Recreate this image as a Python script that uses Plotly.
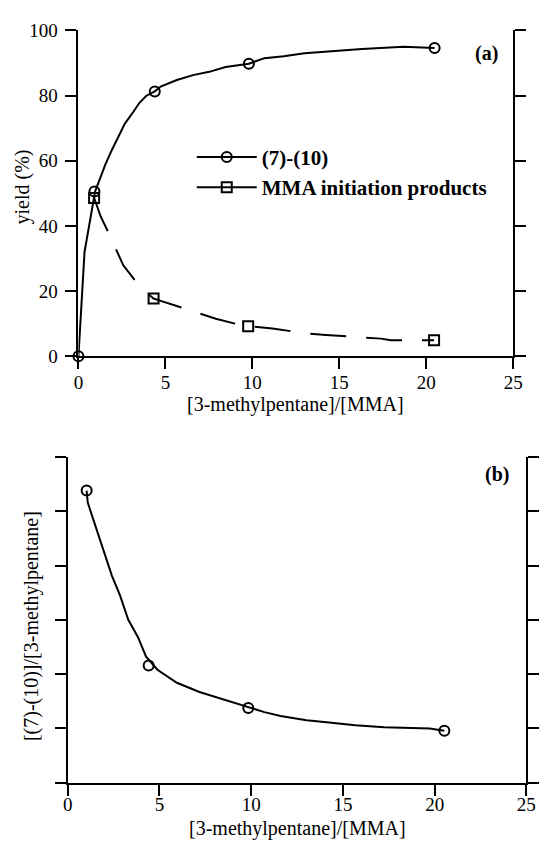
import plotly.graph_objects as go

# ---------------- data ----------------
# panel (a): measured points
ratio_a = [0, 0.92, 4.39, 9.8, 20.48]
yield_7_10 = [0, 50.6, 81.3, 89.8, 94.6]
ratio_mma = [0.9, 4.32, 9.76, 20.45]
yield_mma = [48.6, 17.7, 9.2, 4.9]

# panel (a): drawn curves
curve_7_10_x = [0, 0.35, 0.96, 1.55, 1.93, 2.21, 2.67, 3.14, 3.51, 3.89, 4.39, 4.73, 5.66,
                6.59, 7.52, 8.46, 9.8, 10.69, 11.81, 13.0, 14.5, 16.3, 18.7, 20.48]
curve_7_10_y = [0, 32, 50.6, 58.9, 63.4, 66.4, 71.4, 74.9, 77.8, 79.9, 81.3, 82.8, 84.8,
                86.3, 87.3, 88.8, 89.8, 91.5, 92.1, 93.0, 93.6, 94.3, 95.0, 94.6]
curve_mma_x = [0.9, 1.28, 1.71, 2.21, 2.58, 3.55, 4.32, 4.73, 6.74, 7.9, 9.0, 9.76, 11.16,
               12.37, 13.1, 14.23, 15.63, 16.29, 17.4, 17.96, 19.45, 20.45]
curve_mma_y = [48.6, 42.9, 38.1, 31.9, 27.9, 21.2, 17.7, 17.0, 13.5, 11.5, 10.0, 9.2, 8.5,
               7.5, 7.0, 6.5, 6.0, 5.6, 5.4, 4.9, 4.9, 4.9]

# panel (b): measured points
ratio_b = [1.03, 4.41, 9.84, 20.53]
rel_b = [5.38, 2.16, 1.376, 0.957]
# panel (b): drawn curve
curve_b_x = [1.03, 1.09, 1.44, 1.71, 2.06, 2.41, 2.85, 3.30, 3.83, 4.27, 4.89, 5.95, 7.18,
             8.95, 9.84, 10.72, 11.6, 13.02, 14.25, 15.67, 17.26, 19.73, 20.53]
curve_b_y = [5.38, 5.16, 4.80, 4.53, 4.17, 3.81, 3.45, 3.00, 2.68, 2.32, 2.08, 1.84, 1.67,
             1.48, 1.39, 1.30, 1.23, 1.15, 1.11, 1.06, 1.02, 1.00, 0.957]

x_ticks = [0, 5, 10, 15, 20, 25]
y_ticks_a = [0, 20, 40, 60, 80, 100]
y_ticks_b = [0, 1, 2, 3, 4, 5, 6]

name_a = "(7)-(10)"
name_b = "MMA initiation products"
x_title = "[3-methylpentane]/[MMA]"
y_title_a = "yield (%)"
y_title_b = "[(7)-(10)]/[3-methylpentane]"

# ---------------- figure ----------------
FONT = "Liberation Serif"
W, H = 549, 848
LW = 2

fig = go.Figure()

# panel (a) curves
fig.add_trace(go.Scatter(x=curve_7_10_x, y=curve_7_10_y, mode="lines",
                         line=dict(color="black", width=LW), showlegend=False,
                         xaxis="x", yaxis="y", cliponaxis=False))
fig.add_trace(go.Scatter(x=curve_mma_x, y=curve_mma_y, mode="lines",
                         line=dict(color="black", width=LW, dash="36px,20px"),
                         showlegend=False, xaxis="x", yaxis="y"))
# panel (a) markers
mk_c = dict(symbol="circle-open", size=10, color="black", line=dict(width=2, color="black"))
mk_s = dict(symbol="square-open", size=10, color="black", line=dict(width=2, color="black"))
fig.add_trace(go.Scatter(x=ratio_a, y=yield_7_10, mode="markers", marker=mk_c,
                         showlegend=False, xaxis="x", yaxis="y", cliponaxis=False))
fig.add_trace(go.Scatter(x=ratio_mma, y=yield_mma, mode="markers", marker=mk_s,
                         showlegend=False, xaxis="x", yaxis="y", cliponaxis=False))
# legend entries
fig.add_trace(go.Scatter(x=[None], y=[None], mode="lines+markers", name=name_a,
                         line=dict(color="black", width=LW), marker=mk_c,
                         legendgroup="g1", xaxis="x", yaxis="y"))
fig.add_trace(go.Scatter(x=[None], y=[None], mode="lines+markers", name=name_b,
                         line=dict(color="black", width=LW), marker=mk_s,
                         legendgroup="g2", xaxis="x", yaxis="y"))

# panel (b)
fig.add_trace(go.Scatter(x=curve_b_x, y=curve_b_y, mode="lines",
                         line=dict(color="black", width=LW), showlegend=False,
                         xaxis="x2", yaxis="y2"))
fig.add_trace(go.Scatter(x=ratio_b, y=rel_b, mode="markers", marker=mk_c,
                         showlegend=False, xaxis="x2", yaxis="y2", cliponaxis=False))

tickfont = dict(family=FONT, size=19, color="black")
titlefont = dict(family=FONT, size=20, color="black")

common_x = dict(range=[0, 25], tickvals=x_ticks, showline=True, linecolor="black",
                linewidth=LW, ticks="outside", ticklen=11, tickwidth=LW, tickcolor="black",
                showgrid=False, zeroline=False, tickfont=tickfont)
common_y = dict(showline=True, linecolor="black", linewidth=LW, ticks="outside",
                ticklen=11, tickwidth=LW, tickcolor="black", mirror="ticks",
                showgrid=False, zeroline=False, tickfont=tickfont)

ann = dict(xref="paper", yref="paper", showarrow=False, xanchor="center", yanchor="middle")

fig.update_layout(
    width=W, height=H,
    margin=dict(l=0, r=0, t=0, b=0),
    paper_bgcolor="white", plot_bgcolor="white",
    font=dict(family=FONT, color="black"),
    xaxis=dict(domain=[75.5 / W, 522.5 / W], anchor="y", ticklabelstandoff=-3, **common_x),
    yaxis=dict(domain=[(H - 355) / H, (H - 21) / H], anchor="x", range=[0, 100],
               tickvals=y_ticks_a, ticklabelstandoff=4, **common_y),
    xaxis2=dict(domain=[64.5 / W, 536 / W], anchor="y2", ticklabelstandoff=-7, **common_x),
    yaxis2=dict(domain=[(H - 792.3) / H, (H - 458.3) / H], anchor="x2", range=[0, 6],
                tickvals=y_ticks_b, showticklabels=False, **common_y),
    legend=dict(x=192 / W, y=(H - 130) / H, xanchor="left", yanchor="top",
                font=dict(family=FONT, size=21, color="black", weight="bold"),
                itemwidth=60, tracegroupgap=0, bgcolor="rgba(0,0,0,0)"),
    annotations=[
        dict(text=x_title, x=299 / W, y=(H - 405) / H, font=titlefont, **ann),
        dict(text=x_title, x=300.25 / W, y=(H - 839.5) / H, font=titlefont, **ann),
        dict(text=y_title_a, x=18.5 / W, y=(H - 181) / H, textangle=-90, font=titlefont, **ann),
        dict(text=y_title_b, x=27.5 / W, y=(H - 632) / H, textangle=-90, font=titlefont, **ann),
        dict(text="<b>(a)</b>", x=495.5 / W, y=(H - 45) / H,
             font=dict(family=FONT, size=20, color="black"), **ann),
        dict(text="<b>(b)</b>", x=506.3 / W, y=(H - 476.7) / H,
             font=dict(family=FONT, size=20, color="black"), **ann),
    ],
)

fig.write_html("out.html")
